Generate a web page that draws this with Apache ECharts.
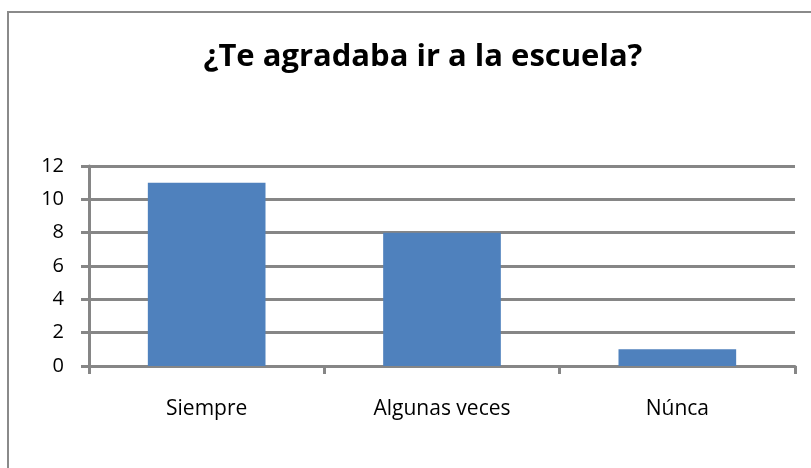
<!DOCTYPE html>
<html>
<head>
<meta charset="utf-8">
<script src="https://cdn.jsdelivr.net/npm/echarts@6/dist/echarts.min.js"></script>
<style>
  html, body { margin: 0; padding: 0; background: #fff; }
  #frame { position: absolute; left: 7px; top: 11px; width: 830px; height: 480px;
           border: 2px solid #8a8a8a; box-sizing: border-box; }
  #chart { position: absolute; left: 0; top: 0; width: 811px; height: 468px; }
</style>
</head>
<body>
<div id="frame"></div>
<div id="chart"></div>
<script>
const titleText = '¿Te agradaba ir a la escuela?';
const categories = ['Siempre', 'Algunas veces', 'Núnca'];
const values = [11, 8, 1];
const yTicks = { min: 0, max: 12, interval: 2 };

const fontFam = '"Open Sans", sans-serif';
const chart = echarts.init(document.getElementById('chart'), null, { renderer: 'canvas' });
chart.setOption({
  animation: false,
  backgroundColor: 'transparent',
  title: {
    text: titleText,
    left: 418,
    textAlign: 'center',
    top: 37,
    textStyle: { fontFamily: fontFam, fontWeight: 'bold', fontSize: 31, color: '#000' }
  },
  grid: { left: 89, right: 16, top: 166, bottom: 102, containLabel: false },
  xAxis: {
    type: 'category',
    data: categories,
    axisLine: { lineStyle: { color: '#868686', width: 3 } },
    axisTick: { show: true, length: 8, alignWithLabel: false, lineStyle: { color: '#868686', width: 3 } },
    axisLabel: { margin: 33, fontFamily: fontFam, fontSize: 21, color: '#000' }
  },
  yAxis: {
    type: 'value',
    min: yTicks.min, max: yTicks.max, interval: yTicks.interval,
    axisLine: { show: true, lineStyle: { color: '#868686', width: 3 } },
    axisTick: { show: true, length: 8, lineStyle: { color: '#868686', width: 3 } },
    axisLabel: { margin: 25, fontFamily: fontFam, fontSize: 20, color: '#000' },
    splitLine: { lineStyle: { color: '#868686', width: 3 } }
  },
  series: [{
    type: 'bar',
    data: values,
    barCategoryGap: '50%',
    itemStyle: { color: '#4f81bd' }
  }]
});
</script>
</body>
</html>
